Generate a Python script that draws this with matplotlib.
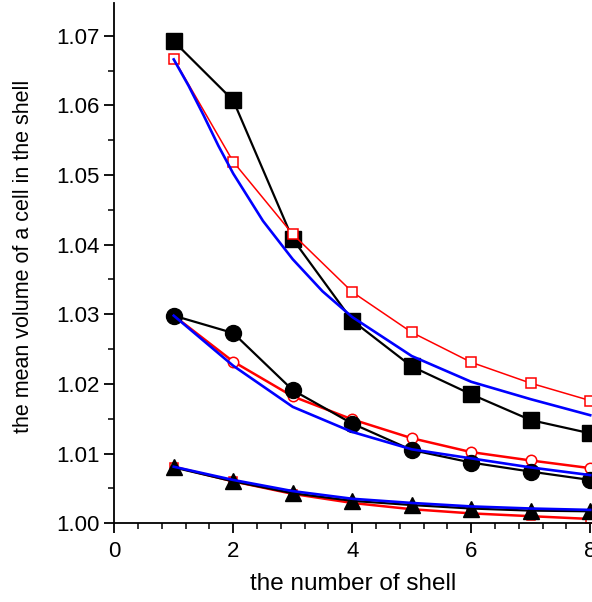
import matplotlib.pyplot as plt
from matplotlib.ticker import MultipleLocator

plt.rcParams['font.family'] = ['Liberation Sans', 'DejaVu Sans']

shell = [1, 2, 3, 4, 5, 6, 7, 8]

# top group (squares)
sq_black = [1.0692, 1.0607, 1.0408, 1.0291, 1.0225, 1.0185, 1.0148, 1.0129]
sq_red = [1.0667, 1.0519, 1.0415, 1.0332, 1.0274, 1.0231, 1.0201, 1.0176]
sq_blue_x = [1, 1.25, 1.5, 1.75, 2, 2.5, 3, 3.5, 4, 5, 6, 7, 8]
sq_blue = [1.0666, 1.0628, 1.0586, 1.0542, 1.0502, 1.0434, 1.0379, 1.0333, 1.0296,
           1.0240, 1.0203, 1.0178, 1.0155]

# middle group (circles)
ci_black = [1.0298, 1.0273, 1.0191, 1.0143, 1.0105, 1.0087, 1.0074, 1.0062]
ci_red = [1.0298, 1.0232, 1.0182, 1.0149, 1.0122, 1.0102, 1.0090, 1.0079]
ci_blue = [1.0298, 1.0226, 1.0167, 1.0131, 1.0106, 1.0093, 1.0080, 1.0069]

# bottom group (triangles)
tr_black = [1.0080, 1.0060, 1.0043, 1.0032, 1.0026, 1.0021, 1.0018, 1.0017]
tr_red = [1.0081, 1.0060, 1.0042, 1.0029, 1.0020, 1.0014, 1.0010, 1.0006]
tr_blue = [1.0081, 1.0062, 1.0046, 1.0035, 1.0029, 1.0024, 1.0021, 1.0019]

fig = plt.figure(figsize=(5.92, 6.02), dpi=100)
ax = fig.add_axes([0.193, 0.131, 0.807, 0.864])

# black data
ax.plot(shell, sq_black, color='black', lw=1.6, marker='s', ms=11, zorder=3)
ax.plot(shell, ci_black, color='black', lw=1.6, marker='o', ms=11.5, zorder=3)
ax.plot(shell, tr_black, color='black', lw=1.6, marker='^', ms=12, zorder=3)

# red model
ax.plot(shell, sq_red, color='red', lw=1.1, marker='s', ms=7, mfc='white', mec='red', mew=1.1, zorder=4)
ax.plot(shell, ci_red, color='red', lw=1.8, marker='o', ms=7.5, mfc='white', mec='red', mew=1.1, zorder=2)
ax.plot(shell, tr_red, color='red', lw=1.8, marker='s', ms=6, mfc='white', mec='red', mew=1.1, zorder=2)

# blue fit
ax.plot(sq_blue_x, sq_blue, color='#0000ff', lw=1.9, zorder=5)
ax.plot(shell, ci_blue, color='#0000ff', lw=1.9, zorder=5)
ax.plot(shell, tr_blue, color='#0000ff', lw=1.9, zorder=5)

ax.set_xlim(0, 8.03)
ax.set_ylim(1.0, 1.0747)
ax.xaxis.set_major_locator(MultipleLocator(2))
ax.xaxis.set_minor_locator(MultipleLocator(0.4))
ax.yaxis.set_major_locator(MultipleLocator(0.01))
ax.yaxis.set_minor_locator(MultipleLocator(0.005))
ax.yaxis.set_major_formatter(plt.FormatStrFormatter('%.2f'))

for s in ['top', 'right']:
    ax.spines[s].set_visible(False)
for s in ['left', 'bottom']:
    ax.spines[s].set_linewidth(1.3)

ax.tick_params(which='major', direction='out', length=7, width=1.3, labelsize=16)
ax.tick_params(axis='x', which='major', pad=6)
ax.tick_params(which='minor', direction='out', length=4, width=1.1)

ax.set_xlabel('the number of shell', fontsize=17.5, labelpad=8)
ax.set_ylabel('the mean volume of a cell in the shell', fontsize=15.5)
ax.yaxis.set_label_coords(-0.168, 0.513)

fig.savefig('out.png', dpi=100)
